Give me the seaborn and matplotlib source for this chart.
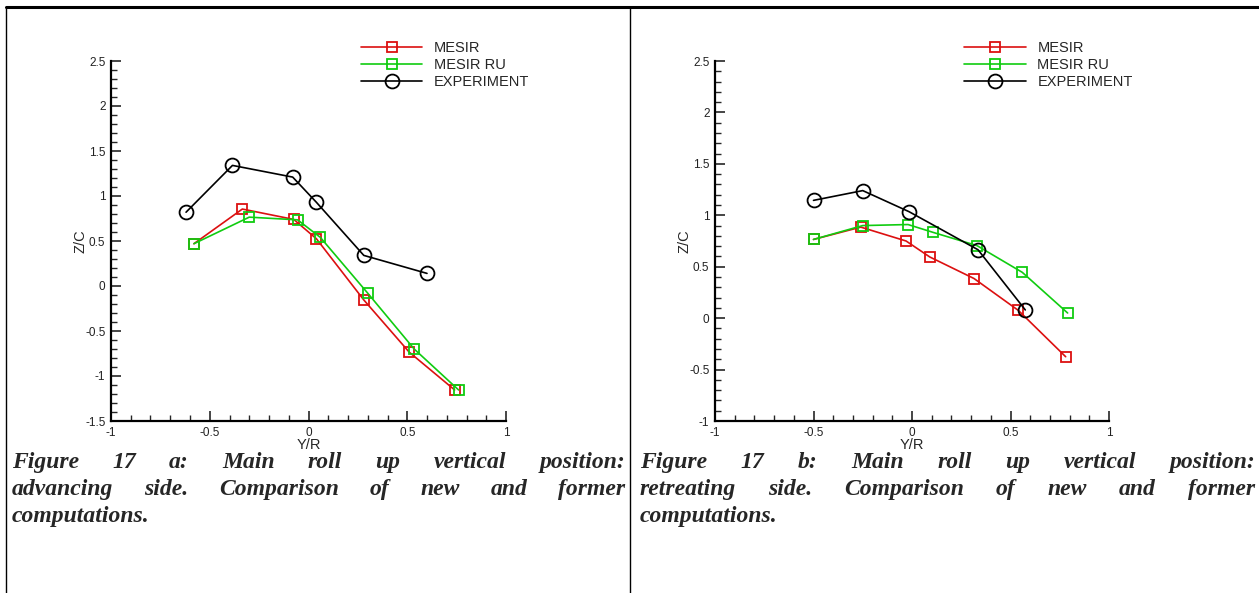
import matplotlib
matplotlib.use("Agg")
from matplotlib import pyplot as plt
from matplotlib.lines import Line2D
from matplotlib.ticker import MultipleLocator
import seaborn as sns

# data
# panel a : advancing side
exp_a_x = [-0.62, -0.385, -0.08, 0.04, 0.28, 0.60]
exp_a_y = [0.82, 1.34, 1.21, 0.93, 0.34, 0.14]
mesir_a_x = [-0.58, -0.335, -0.075, 0.04, 0.28, 0.51, 0.74]
mesir_a_y = [0.47, 0.855, 0.74, 0.525, -0.155, -0.735, -1.155]
ru_a_x = [-0.58, -0.30, -0.055, 0.06, 0.30, 0.535, 0.76]
ru_a_y = [0.47, 0.765, 0.735, 0.54, -0.08, -0.70, -1.155]

# panel b : retreating side
exp_b_x = [-0.50, -0.25, -0.015, 0.335, 0.575]
exp_b_y = [1.145, 1.24, 1.035, 0.665, 0.08]
mesir_b_x = [-0.50, -0.26, -0.03, 0.09, 0.315, 0.54, 0.78]
mesir_b_y = [0.765, 0.885, 0.75, 0.595, 0.385, 0.075, -0.375]
ru_b_x = [-0.50, -0.25, -0.02, 0.105, 0.33, 0.56, 0.79]
ru_b_y = [0.765, 0.90, 0.91, 0.835, 0.705, 0.445, 0.05]

labels = ["MESIR", "MESIR RU", "EXPERIMENT"]
captions_a = ["Figure 17 a:  Main roll up vertical position:",
              "advancing side. Comparison of new and former",
              "computations."]
captions_b = ["Figure 17 b:  Main roll up vertical position:",
              "retreating side. Comparison of new and former",
              "computations."]

sns.set_style("white")
plt.rcParams['font.family'] = ['Liberation Sans', 'DejaVu Sans']

W, H = 1259, 593
fig = plt.figure(figsize=(W / 100, H / 100), dpi=100)

red = "#dc1010"
green = "#10cc10"


def px_axes(x0, x1, y0, y1):
    return fig.add_axes([x0 / W, 1 - y1 / H, (x1 - x0) / W, (y1 - y0) / H])


def draw_panel(ax, series, ylim):
    for (xs, ys), lab, col, mk, ms in zip(series, labels,
                                          [red, green, "black"],
                                          ["s", "s", "o"], [7, 7, 10]):
        sns.lineplot(x=xs, y=ys, ax=ax, color=col, marker=mk, markersize=ms,
                     markerfacecolor="none", markeredgecolor=col,
                     markeredgewidth=1.3, linewidth=1.2, sort=False,
                     estimator=None, label=lab)
    ax.set_xlim(-1, 1)
    ax.set_ylim(*ylim)
    ax.xaxis.set_major_locator(MultipleLocator(0.5))
    ax.xaxis.set_minor_locator(MultipleLocator(0.1))
    ax.yaxis.set_major_locator(MultipleLocator(0.5))
    ax.yaxis.set_minor_locator(MultipleLocator(0.1))
    ax.xaxis.set_major_formatter(lambda v, p: "%g" % v)
    ax.yaxis.set_major_formatter(lambda v, p: "%g" % v)
    for s in ["top", "right"]:
        ax.spines[s].set_visible(False)
    for s in ["left", "bottom"]:
        ax.spines[s].set_linewidth(1.6)
        ax.spines[s].set_color("black")
    ax.tick_params(which="major", direction="in", length=7, width=1.2,
                   labelsize=8.5, labelcolor="#222222", pad=4,
                   bottom=True, left=True)
    ax.tick_params(which="minor", direction="in", length=4, width=1.0,
                   bottom=True, left=True)
    ax.set_xlabel("Y/R", fontsize=10.5)
    ax.set_ylabel("Z/C", fontsize=10.5)
    ax.xaxis.set_label_coords(0.5, -0.048)
    ax.yaxis.set_label_coords(-0.06, 0.5)
    ax.patch.set_alpha(0)
    ax.legend(loc="upper left", bbox_to_anchor=(0.633, 1.055), frameon=False,
              fontsize=10.5, handlelength=4.2, handletextpad=0.8,
              labelspacing=0.2, borderpad=0, borderaxespad=0)


ax_a = px_axes(111, 506, 61, 421)
draw_panel(ax_a, [(mesir_a_x, mesir_a_y), (ru_a_x, ru_a_y), (exp_a_x, exp_a_y)],
           (-1.5, 2.5))
ax_b = px_axes(715, 1109, 61, 421)
draw_panel(ax_b, [(mesir_b_x, mesir_b_y), (ru_b_x, ru_b_y), (exp_b_x, exp_b_y)],
           (-1, 2.5))

# table-like frame
fig.add_artist(Line2D([6 / W, 1], [1 - 7 / H] * 2, color="black", lw=2.2,
                      transform=fig.transFigure))
for xp in [6, 630]:
    fig.add_artist(Line2D([xp / W] * 2, [0, 1 - 7 / H], color="black", lw=1.0,
                          transform=fig.transFigure))

# justified captions
renderer = fig.canvas.get_renderer()
cap_font = dict(family=["Liberation Serif", "DejaVu Serif"], weight="bold",
                style="italic", size=17)


def justified(lines, x0, x1, baselines):
    for i, (line, y) in enumerate(zip(lines, baselines)):
        words = line.split()
        texts = [fig.text(0, 1 - y / H, w, va="baseline", ha="left", **cap_font)
                 for w in words]
        widths = [t.get_window_extent(renderer).width for t in texts]
        if i == len(lines) - 1 or len(words) == 1:
            gap = 5
        else:
            gap = (x1 - x0 - sum(widths)) / (len(words) - 1)
        x = x0
        for t, w in zip(texts, widths):
            t.set_x(x / W)
            x += w + gap


justified(captions_a, 12, 625, [468, 495, 522])
justified(captions_b, 640, 1255, [468, 495, 522])

fig.savefig("out.png", dpi=100)
